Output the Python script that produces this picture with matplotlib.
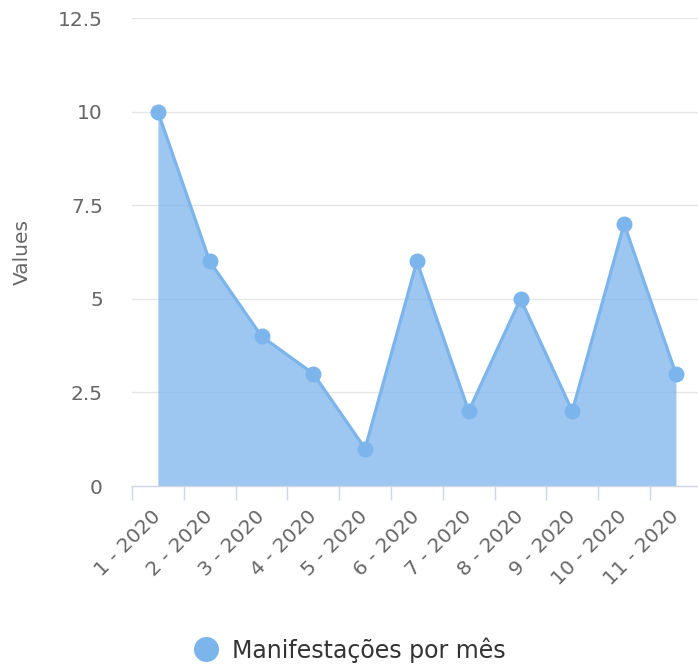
import matplotlib
matplotlib.use("Agg")
import matplotlib.pyplot as plt
from matplotlib.lines import Line2D
import numpy as np

# dados do gráfico
categories = ['1 - 2020', '2 - 2020', '3 - 2020', '4 - 2020', '5 - 2020', '6 - 2020',
              '7 - 2020', '8 - 2020', '9 - 2020', '10 - 2020', '11 - 2020']
values = [10, 6, 4, 3, 1, 6, 2, 5, 2, 7, 3]
y_ticks = [0, 2.5, 5, 7.5, 10, 12.5]
y_tick_labels = ['0', '2.5', '5', '7.5', '10', '12.5']
series_name = 'Manifestações por mês'

color = '#7cb5ec'
W, H = 698, 671
fig = plt.figure(figsize=(W / 100, H / 100), dpi=100)
left, right, bottom, top = 132, 698, 486, 18
ax = fig.add_axes([left / W, (H - bottom) / H, (right - left) / W, (bottom - top) / H])

x = np.arange(len(categories))
step = 51.8
ax.set_xlim(-0.5, -0.5 + (right - left) / step)
ax.set_ylim(0, 12.5)

ax.fill_between(x, values, 0, color=color, alpha=0.75, linewidth=0, zorder=2)
ax.plot(x, values, color=color, lw=2.3, marker='o', markersize=11.5,
        markeredgewidth=0, zorder=3, clip_on=False)

# grade horizontal
for t in y_ticks[1:]:
    ax.axhline(t, color='#e6e6e6', lw=1, zorder=1)

for s in ['top', 'right', 'left']:
    ax.spines[s].set_visible(False)
ax.spines['bottom'].set_color('#ccd6eb')
ax.spines['bottom'].set_linewidth(1)
ax.spines['bottom'].set_zorder(4)

ax.set_yticks(y_ticks)
ax.set_yticklabels(y_tick_labels)
ax.tick_params(axis='y', length=0, pad=21, labelsize=14.5, labelcolor='#666666')

# rótulos no centro, traços nas divisões
ax.set_xticks(x)
ax.set_xticklabels(categories, rotation=45, ha='right', va='center',
                   rotation_mode='anchor')
ax.tick_params(axis='x', which='major', length=0, pad=20, labelsize=14.5,
               labelcolor='#666666')
ax.set_xticks(np.arange(len(categories)) - 0.5, minor=True)
ax.tick_params(axis='x', which='minor', length=10, width=1, color='#ccd6eb')

fig.text(22 / W, (H - 252) / H, 'Values', rotation=90, ha='center', va='center',
         fontsize=14.5, color='#666666')

handle = Line2D([], [], color=color, marker='o', linestyle='None', markersize=17)
fig.legend([handle], [series_name], loc='center', bbox_to_anchor=(0.5, (H - 650) / H),
           frameon=False, fontsize=17, handletextpad=0.5, handlelength=1.2,
           labelcolor='#333333')

fig.savefig('out.png', dpi=100)
